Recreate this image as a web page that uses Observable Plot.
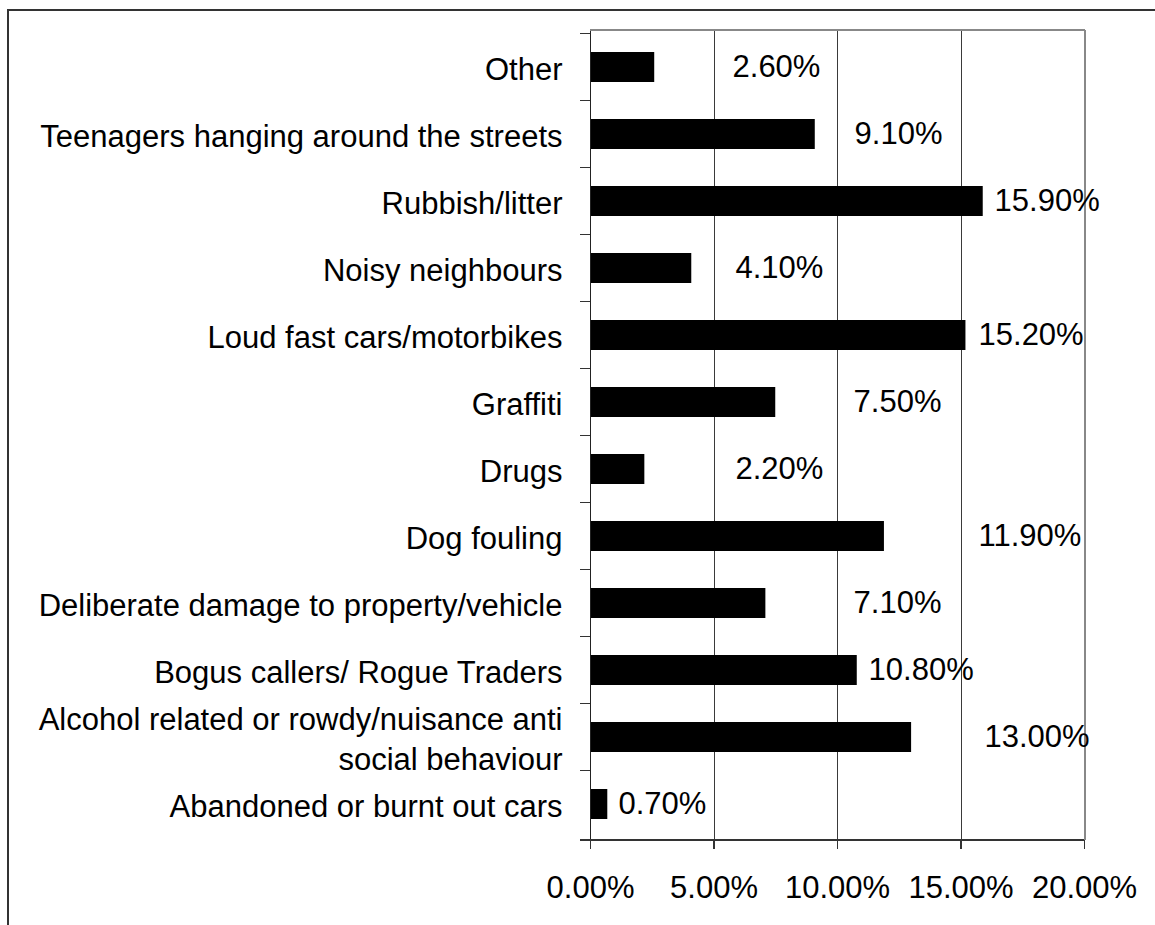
<!DOCTYPE html>
<html>
<head>
<meta charset="utf-8">
<script src="https://cdn.jsdelivr.net/npm/d3@7"></script>
<script src="https://cdn.jsdelivr.net/npm/@observablehq/plot@0.6"></script>
<style>
  html, body { margin: 0; padding: 0; background: #fff; }
  #wrap { position: relative; width: 1155px; height: 925px; overflow: hidden; }
  #outer { position: absolute; left: 7px; top: 9px; right: -10px; bottom: -10px;
           border-top: 2px solid #333; border-left: 2px solid #333; pointer-events: none; }
</style>
</head>
<body>
<div id="wrap"><div id="outer"></div></div>
<script>
// ---- data (top to bottom as in the chart) ----
const categories = [
  "Other",
  "Teenagers hanging around the streets",
  "Rubbish/litter",
  "Noisy neighbours",
  "Loud fast cars/motorbikes",
  "Graffiti",
  "Drugs",
  "Dog fouling",
  "Deliberate damage to property/vehicle",
  "Bogus callers/ Rogue Traders",
  "Alcohol related or rowdy/nuisance anti\nsocial behaviour",
  "Abandoned or burnt out cars"
];
const values = [2.6, 9.1, 15.9, 4.1, 15.2, 7.5, 2.2, 11.9, 7.1, 10.8, 13.0, 0.7];
// where each data label starts, in axis (%) units
const labelAt = [5.75, 10.69, 16.36, 5.87, 15.71, 10.65, 5.87, 15.71, 10.65, 11.26, 15.95, 1.13];
const xTicks = [0, 5, 10, 15, 20];
const gridTicks = [5, 10, 15];
const xMax = 20;

const data = categories.map((c, i) => ({category: c, value: values[i], labelX: labelAt[i]}));
const fmt = d => d.toFixed(2) + "%";

const PAD_INNER = 0.5556;

function decor(index, scales, vals, dimensions) {
  const {height, marginTop, marginBottom} = dimensions;
  const y = scales.y, x = scales.x;
  const step = y(categories[1]) - y(categories[0]);
  const bw = step * (1 - PAD_INNER);
  const x0 = x(0), x1 = x(xMax);
  const g = d3.create("svg:g").attr("shape-rendering", "crispEdges");
  // top frame line (gray)
  g.append("line").attr("x1", x0).attr("x2", x1 + 1).attr("y1", marginTop).attr("y2", marginTop)
    .attr("stroke", "#888").attr("stroke-width", 2);
  // bottom axis line
  const yb = height - marginBottom;
  g.append("line").attr("x1", x0 - 10).attr("x2", x1).attr("y1", yb).attr("y2", yb)
    .attr("stroke", "#333").attr("stroke-width", 2);
  // category boundary ticks
  const ys = categories.map(c => y(c) + bw / 2 - step / 2);
  ys.push(yb);
  for (const yy of ys) {
    g.append("line").attr("x1", x0 - 10).attr("x2", x0).attr("y1", yy).attr("y2", yy)
      .attr("stroke", "#333").attr("stroke-width", 1.5);
  }
  return g.node();
}

const chart = Plot.plot({
  width: 1155,
  height: 925,
  marginLeft: 590,
  marginRight: 71,
  marginTop: 30,
  marginBottom: 85,
  style: {fontFamily: "'Liberation Sans', Arial, sans-serif", fontSize: "31px", color: "#000", background: "transparent"},
  x: {domain: [0, xMax]},
  y: {domain: categories, paddingInner: PAD_INNER, paddingOuter: PAD_INNER / 2},
  marks: [
    Plot.ruleX(gridTicks, {stroke: "#3a3a3a", strokeWidth: 1, shapeRendering: "crispEdges"}),
    Plot.ruleX([xMax], {stroke: "#888", strokeWidth: 2, shapeRendering: "crispEdges"}),
    Plot.barX(data, {x: "value", y: "category", fill: "#000"}),
    Plot.ruleX([0], {stroke: "#222", strokeWidth: 1.5, shapeRendering: "crispEdges"}),
    Plot.axisX({ticks: xTicks, tickFormat: fmt, tickSize: 9, tickPadding: 26, label: null, stroke: "#333", strokeWidth: 1.5, fill: "#000", shapeRendering: "crispEdges"}),
    Plot.axisY({tickSize: 0, tickPadding: 28, label: null, lineHeight: 1.26, fill: "#000"}),
    Plot.text(data, {x: "labelX", y: "category", text: d => fmt(d.value), textAnchor: "start", fill: "#000"}),
    decor
  ]
});
const wrap = document.getElementById("wrap");
chart.style.position = "absolute";
chart.style.left = "0";
chart.style.top = "0";
wrap.insertBefore(chart, wrap.firstChild);
</script>
</body>
</html>
